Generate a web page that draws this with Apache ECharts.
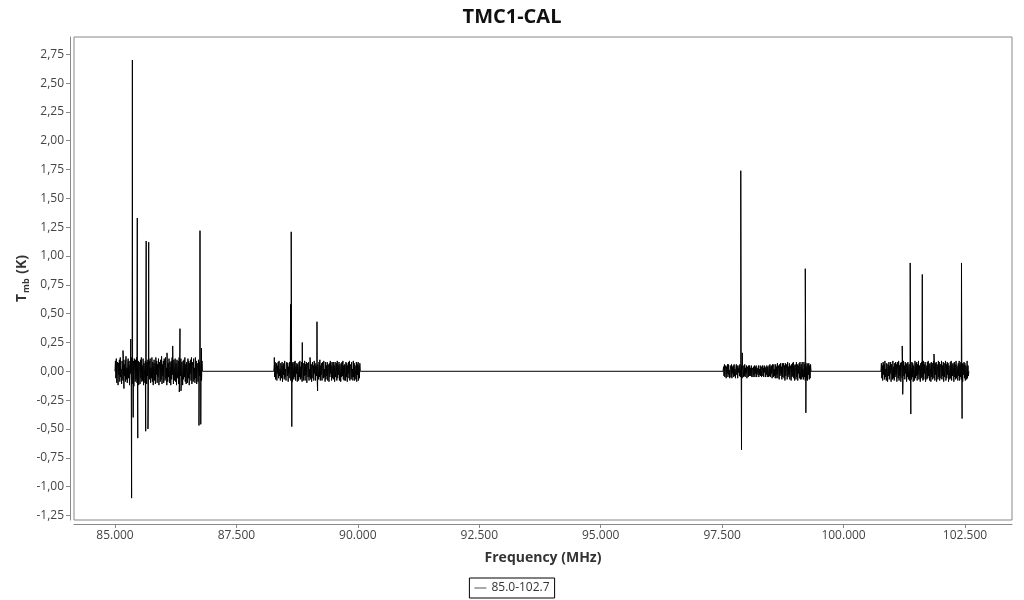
<!DOCTYPE html>
<html>
<head>
<meta charset="utf-8">
<script src="https://cdn.jsdelivr.net/npm/echarts@6/dist/echarts.min.js"></script>
<style>
html,body{margin:0;padding:0;background:#fff;}
#chart{width:1024px;height:600px;}
</style>
</head>
<body>
<div id="chart"></div>
<script>
// ---- data (T_mb in K, frequency in MHz) ----
const seriesName = '85.0-102.7';
const bandStart = [85.00, 88.27, 97.52, 100.77];
const bandEnd   = [86.80, 90.05, 99.33, 102.58];

// baseline noise of each band (channel values)
const noise1 = [0.00,0.09,-0.06,0.11,-0.10,0.04,0.08,-0.12,0.07,-0.03,0.10,-0.09,0.12,-0.05,0.02,-0.11,0.09,0.05,-0.08,0.11,
-0.12,0.06,-0.04,0.10,-0.09,0.13,-0.07,0.03,-0.10,0.08,0.11,-0.06,0.09,-0.12,0.05,-0.02,0.10,-0.08,0.12,-0.11,
0.07,-0.05,0.09,-0.13,0.11,0.02,-0.09,0.10,-0.07,0.12,-0.10,0.06,-0.03,0.09,-0.12,0.08,0.04,-0.11,0.10,-0.06,
0.12,-0.09,0.05,-0.08,0.11,-0.12,0.07,0.01,-0.10,0.09,-0.05,0.12,-0.11,0.08,-0.04,0.10,-0.13,0.06,0.09,-0.07,
0.11,-0.10,0.03,-0.06,0.12,-0.09,0.08,-0.12,0.05,0.10,-0.08,0.07,-0.11,0.12,-0.03,0.09,-0.10,0.06,-0.05,0.11,
-0.12,0.08,0.02,-0.09,0.10,-0.07,0.13,-0.11,0.06,-0.04,0.09,-0.10,0.11,0.05,-0.08,0.12,-0.06,0.03,-0.12,0.10,
-0.09,0.07,-0.05,0.11,-0.10,0.08,0.04,-0.12,0.09,-0.07,0.12,-0.03,0.06,-0.11,0.10,-0.08,0.05,0.11,-0.09,0.07,
-0.12,0.10,-0.06,0.02,0.09,-0.11,0.12,-0.08,0.06,-0.04,0.11,-0.10,0.08,0.03,-0.12,0.09,-0.07,0.10,-0.05,0.12,
-0.09,0.06,-0.11,0.08,0.04,-0.10,0.11,-0.06,0.09,-0.12,0.07,-0.02,0.10,-0.08,0.12,-0.11,0.05,0.08,-0.09,0.11,
-0.07,0.03,-0.10,0.12,-0.06,0.09,-0.11,0.07,0.05,-0.09,0.10,-0.12,0.08,-0.04,0.11,-0.10,0.06,-0.08,0.09,0.00];
const noise2 = [0.00,0.06,-0.05,0.08,-0.07,0.03,0.07,-0.08,0.05,-0.02,0.08,-0.06,0.09,-0.04,0.02,-0.08,0.07,0.04,-0.06,0.08,
-0.09,0.05,-0.03,0.07,-0.07,0.09,-0.05,0.02,-0.08,0.06,0.08,-0.04,0.07,-0.09,0.04,-0.02,0.08,-0.06,0.09,-0.08,
0.05,-0.04,0.07,-0.09,0.08,0.02,-0.07,0.08,-0.05,0.09,-0.08,0.04,-0.02,0.07,-0.09,0.06,0.03,-0.08,0.08,-0.05,
0.09,-0.07,0.04,-0.06,0.08,-0.09,0.05,0.01,-0.08,0.07,-0.04,0.09,-0.08,0.06,-0.03,0.08,-0.10,0.05,0.07,-0.05,
0.08,-0.08,0.02,-0.05,0.09,-0.07,0.06,-0.09,0.04,0.08,-0.06,0.05,-0.08,0.09,-0.02,0.07,-0.08,0.05,-0.04,0.08,
-0.09,0.06,0.02,-0.07,0.08,-0.05,0.10,-0.08,0.05,-0.03,0.07,-0.08,0.08,0.04,-0.06,0.09,-0.05,0.02,-0.09,0.08,
-0.07,0.05,-0.04,0.08,-0.08,0.06,0.03,-0.09,0.07,-0.05,0.09,-0.02,0.05,-0.08,0.08,-0.06,0.04,0.08,-0.07,0.05,
-0.09,0.08,-0.05,0.02,0.07,-0.08,0.09,-0.06,0.05,-0.03,0.08,-0.08,0.06,0.02,-0.09,0.07,-0.05,0.08,-0.04,0.09,
-0.07,0.05,-0.08,0.06,0.03,-0.08,0.08,-0.05,0.07,-0.09,0.05,-0.02,0.08,-0.06,0.09,-0.08,0.04,0.06,-0.07,0.08,
-0.05,0.02,-0.08,0.09,-0.05,0.07,-0.08,0.05,0.04,-0.07,0.08,-0.09,0.06,-0.03,0.08,-0.08,0.05,-0.06,0.07,0.00];
const noise3 = [0.00,0.04,-0.04,0.06,-0.05,0.02,0.05,-0.06,0.04,-0.02,0.06,-0.05,0.06,-0.03,0.01,-0.06,0.05,0.03,-0.05,0.06,
-0.06,0.04,-0.02,0.05,-0.05,0.06,-0.04,0.02,-0.06,0.04,0.06,-0.03,0.05,-0.06,0.03,-0.01,0.05,-0.04,0.06,-0.05,
0.04,-0.03,0.05,-0.06,0.05,0.01,-0.05,0.05,-0.04,0.06,-0.05,0.03,-0.02,0.05,-0.06,0.04,0.02,-0.05,0.05,-0.04,
0.05,-0.04,0.03,-0.04,0.05,-0.05,0.03,0.01,-0.05,0.04,-0.03,0.05,-0.05,0.04,-0.02,0.05,-0.05,0.03,0.04,-0.03,
0.05,-0.05,0.02,-0.03,0.05,-0.04,0.04,-0.05,0.03,0.05,-0.04,0.03,-0.05,0.05,-0.01,0.04,-0.05,0.03,-0.03,0.05,
-0.05,0.04,0.01,-0.05,0.05,-0.04,0.06,-0.05,0.04,-0.02,0.05,-0.06,0.06,0.03,-0.05,0.06,-0.04,0.02,-0.06,0.06,
-0.06,0.04,-0.03,0.07,-0.06,0.05,0.02,-0.07,0.06,-0.04,0.07,-0.02,0.04,-0.07,0.07,-0.05,0.03,0.07,-0.06,0.05,
-0.08,0.07,-0.04,0.02,0.06,-0.07,0.08,-0.05,0.04,-0.03,0.07,-0.07,0.05,0.02,-0.08,0.06,-0.05,0.07,-0.04,0.08,
-0.06,0.05,-0.08,0.06,0.03,-0.07,0.08,-0.05,0.06,-0.08,0.05,-0.02,0.07,-0.06,0.08,-0.07,0.04,0.06,-0.07,0.08,
-0.05,0.02,-0.07,0.08,-0.05,0.06,-0.08,0.05,0.04,-0.07,0.07,-0.08,0.06,-0.03,0.07,-0.07,0.05,-0.06,0.06,0.00];
const noise4 = [0.00,0.07,-0.06,0.05,-0.08,0.08,-0.03,0.06,-0.07,0.09,-0.05,0.02,-0.08,0.07,0.04,-0.09,0.06,-0.04,0.08,-0.07,
0.05,-0.02,0.08,-0.09,0.06,0.03,-0.07,0.09,-0.06,0.04,-0.08,0.07,-0.05,0.08,-0.03,0.06,-0.09,0.08,0.02,-0.06,
0.09,-0.08,0.05,-0.04,0.07,-0.09,0.08,0.03,-0.06,0.07,-0.08,0.09,-0.04,0.05,-0.07,0.08,-0.02,0.06,-0.09,0.07,
-0.05,0.08,-0.07,0.04,0.06,-0.08,0.09,-0.06,0.03,-0.07,0.08,-0.05,0.07,-0.09,0.05,0.02,-0.08,0.09,-0.06,0.07,
-0.04,0.08,-0.08,0.06,-0.03,0.09,-0.07,0.05,0.04,-0.09,0.07,-0.06,0.08,-0.05,0.03,-0.08,0.09,-0.07,0.06,-0.02,
0.08,-0.09,0.05,0.03,-0.07,0.08,-0.06,0.09,-0.04,0.06,-0.08,0.07,0.02,-0.09,0.08,-0.05,0.07,-0.07,0.04,0.09,
-0.06,0.05,-0.08,0.07,-0.03,0.08,-0.09,0.06,0.04,-0.07,0.09,-0.05,0.08,-0.08,0.03,0.06,-0.06,0.09,-0.07,0.05,
-0.04,0.08,-0.09,0.07,-0.05,0.02,0.09,-0.08,0.06,-0.06,0.08,-0.03,0.07,-0.09,0.05,0.04,-0.07,0.08,-0.06,0.09,
-0.08,0.06,-0.04,0.07,0.03,-0.09,0.08,-0.05,0.06,-0.07,0.09,-0.06,0.05,0.02,-0.08,0.07,-0.04,0.09,-0.08,0.06,
-0.05,0.08,-0.07,0.04,0.07,-0.09,0.06,-0.03,0.08,-0.06,0.07,-0.08,0.05,0.03,-0.07,0.09,-0.06,0.05,-0.04,0.00];

// spectral lines (channel frequency, value)
const lineFreq = [85.165,85.185,85.325,85.342,85.358,85.375,85.459,85.469,85.632,85.642,85.679,85.694,86.071,86.188,86.324,86.338,86.359,86.729,86.750,86.766,86.781,
88.280,88.615,88.628,88.640,88.856,89.015,89.159,89.171,
97.884,97.899,97.915,99.212,99.224,
101.208,101.218,101.372,101.385,101.621,101.862,102.428,102.440];
const lineVal  = [0.18,-0.15,0.28,-1.10,2.70,-0.40,1.33,-0.58,-0.52,1.13,-0.50,1.12,0.16,0.22,-0.18,0.37,-0.17,-0.47,1.22,-0.46,0.20,
0.12,0.58,1.21,-0.48,0.25,0.12,0.43,-0.17,
1.74,-0.68,0.16,0.89,-0.36,
0.22,-0.20,0.94,-0.37,0.84,0.15,0.94,-0.41];

const xTicks = [85, 87.5, 90, 92.5, 95, 97.5, 100, 102.5];
const yTicks = [-1.25, -1, -0.75, -0.5, -0.25, 0, 0.25, 0.5, 0.75, 1, 1.25, 1.5, 1.75, 2, 2.25, 2.5, 2.75];

// ---- build [freq, value] pairs ----
const noises = [noise1, noise2, noise3, noise4];
const points = [];
noises.forEach((vals, b) => {
  const step = (bandEnd[b] - bandStart[b]) / (vals.length - 1);
  vals.forEach((v, i) => points.push([bandStart[b] + i * step, v]));
});
lineFreq.forEach((f, i) => points.push([f, lineVal[i]]));
points.sort((a, b) => a[0] - b[0]);

const FONT = '"Open Sans", "Noto Sans", sans-serif';
const chart = echarts.init(document.getElementById('chart'), null, {renderer: 'canvas'});
chart.setOption({
  animation: false,
  backgroundColor: '#fff',
  title: {
    text: 'TMC1-CAL', left: 'center', top: 2,
    textStyle: {fontFamily: FONT, fontSize: 20, fontWeight: 'bold', color: '#111'}
  },
  grid: {left: 74, right: 12, top: 37, bottom: 80, show: true, borderColor: '#888', borderWidth: 1},
  legend: {
    data: [seriesName], bottom: 2, left: 'center',
    borderColor: '#000', borderWidth: 1, padding: [4, 5], borderRadius: 0,
    icon: 'rect', itemWidth: 12, itemHeight: 1, itemGap: 4,
    itemStyle: {color: '#555'},
    textStyle: {fontFamily: FONT, fontSize: 12, color: '#333'}
  },
  xAxis: {
    type: 'value', min: 84.156, max: 103.468, offset: 4,
    name: 'Frequency (MHz)', nameLocation: 'middle', nameGap: 27, nameMoveOverlap: false,
    nameTextStyle: {fontFamily: FONT, fontSize: 14, fontWeight: 'bold', color: '#333'},
    axisLine: {show: true, onZero: false, lineStyle: {color: '#888'}},
    axisTick: {show: true, length: 4, customValues: xTicks, lineStyle: {color: '#888'}},
    axisLabel: {customValues: xTicks, margin: 6, fontFamily: FONT, fontSize: 12, color: '#444',
      formatter: v => v.toFixed(3)},
    splitLine: {show: false}
  },
  yAxis: {
    type: 'value', min: -1.29, max: 2.90, offset: 4,
    name: '{b|T}{s|mb}{b| (K)}', nameLocation: 'middle', nameGap: 39, nameRotate: 90, nameMoveOverlap: false,
    nameTextStyle: {
      rich: {
        b: {fontFamily: FONT, fontSize: 14, fontWeight: 'bold', color: '#333', lineHeight: 18},
        s: {fontFamily: FONT, fontSize: 9, fontWeight: 'bold', color: '#333', lineHeight: 18, verticalAlign: 'bottom', padding: [8, 1, 0, 1]}
      }
    },
    axisLine: {show: true, onZero: false, lineStyle: {color: '#888'}},
    axisTick: {show: true, length: 4, customValues: yTicks, lineStyle: {color: '#888'}},
    axisLabel: {customValues: yTicks, margin: 6, fontFamily: FONT, fontSize: 12, color: '#444',
      formatter: v => v.toFixed(2).replace('.', ',')},
    splitLine: {show: false}
  },
  series: [{
    name: seriesName, type: 'line', data: points,
    showSymbol: false, symbol: 'none', sampling: null,
    lineStyle: {color: '#000', width: 1},
    itemStyle: {color: '#000'}
  }]
});
</script>
</body>
</html>
